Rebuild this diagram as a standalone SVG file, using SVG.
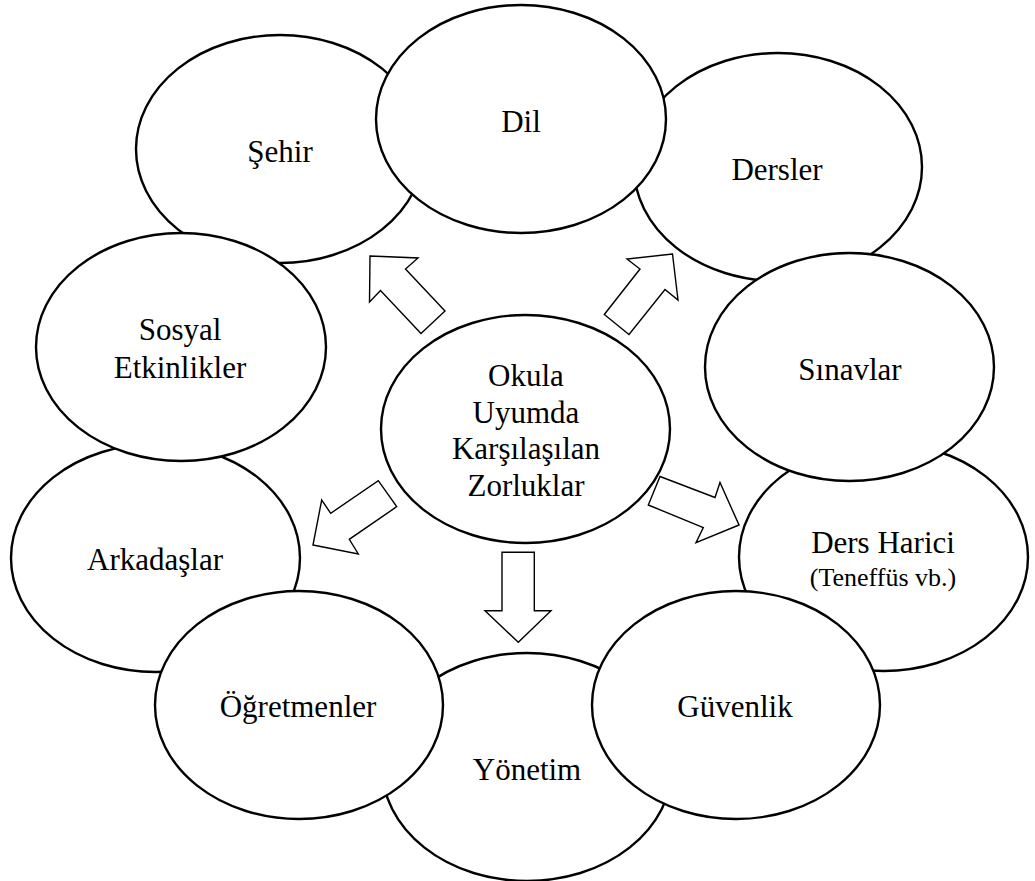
<svg xmlns="http://www.w3.org/2000/svg" width="1035" height="881" viewBox="0 0 1035 881">
<style>
.n ellipse{fill:#fff;stroke:#000;stroke-width:2.4}
.t{font-family:"Liberation Serif","Times New Roman",serif;font-size:31px;fill:#000;text-anchor:middle}
.s{font-size:26px}
.a polygon{fill:#fff;stroke:#000;stroke-width:1.4;stroke-linejoin:miter}
</style>
<rect width="1035" height="881" fill="#fff"/>
<g id="sehir" class="n"><ellipse cx="280" cy="149" rx="144" ry="114"/><text class="t" x="280" y="162">Şehir</text></g>
<g id="dersler" class="n"><ellipse cx="778" cy="167" rx="144" ry="114"/><text class="t" x="777" y="180">Dersler</text></g>
<g id="dil" class="n"><ellipse cx="521" cy="119" rx="145" ry="114"/><text class="t" x="521" y="132">Dil</text></g>
<g id="arkadaslar" class="n"><ellipse cx="155.5" cy="558" rx="144.5" ry="114"/><text class="t" x="155" y="570">Arkadaşlar</text></g>
<g id="sosyal" class="n"><ellipse cx="181" cy="347" rx="145" ry="114"/><text class="t" x="180" y="340">Sosyal</text><text class="t" x="180" y="378">Etkinlikler</text></g>
<g id="dersharici" class="n"><ellipse cx="883.5" cy="557" rx="144.5" ry="114"/><text class="t" x="883" y="553">Ders Harici</text><text class="t s" x="883" y="586">(Teneffüs vb.)</text></g>
<g id="sinavlar" class="n"><ellipse cx="849.5" cy="367" rx="144.5" ry="114"/><text class="t" x="850" y="380">Sınavlar</text></g>
<g id="yonetim" class="n"><ellipse cx="527" cy="767" rx="145" ry="114"/><text class="t" x="527" y="780">Yönetim</text></g>
<g id="ogretmenler" class="n"><ellipse cx="299" cy="705" rx="144" ry="114"/><text class="t" x="298" y="717">Öğretmenler</text></g>
<g id="guvenlik" class="n"><ellipse cx="736" cy="705" rx="144" ry="114"/><text class="t" x="735" y="717">Güvenlik</text></g>
<g id="merkez" class="n"><ellipse cx="525.5" cy="429" rx="144.5" ry="114"/>
<text class="t" x="526" y="386">Okula</text><text class="t" x="526" y="422.5">Uyumda</text><text class="t" x="526" y="459">Karşılaşılan</text><text class="t" x="526" y="495.5">Zorluklar</text></g>
<g id="connectors" class="a">
<polygon points="370,256 418,258 405.5,269 445,311 421,333.5 380.5,290.5 369.5,302"/>
<polygon points="672.5,254 627,259 640,269 604.3,314.5 629,334.5 665,289.5 678,300"/>
<polygon points="313,545 358.3,554 349.3,539.3 396.7,506.7 378.3,480.7 330.7,513.3 321.7,500"/>
<polygon points="739,525 696,542.7 703.3,527.5 648.3,505 660,476.5 715,497.5 720,482.5"/>
<polygon points="502,552.3 534.3,552.3 534.3,610.7 551,610.7 518.3,642.3 485,610.7 502,610.7"/>
</g>
</svg>
